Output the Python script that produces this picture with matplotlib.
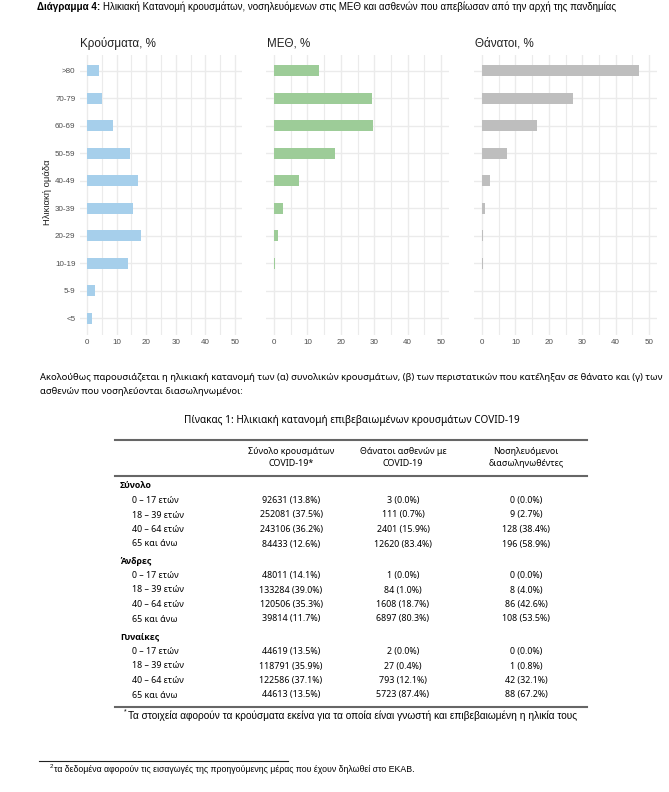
import matplotlib
matplotlib.use("Agg")
import matplotlib.pyplot as plt
from matplotlib.lines import Line2D
import numpy as np

# ---- data ----
age_groups = ["<5", "5-9", "10-19", "20-29", "30-39", "40-49", "50-59", "60-69", "70-79", ">80"]
cases_pct = [1.7, 2.7, 13.9, 18.2, 15.5, 17.2, 14.5, 8.8, 5.1, 4.0]
icu_pct = [0.1, 0.1, 0.4, 1.1, 2.6, 7.4, 18.2, 29.5, 29.2, 13.4]
death_pct = [0.1, 0.0, 0.2, 0.2, 0.8, 2.3, 7.4, 16.4, 27.1, 46.9]

panel_titles = ["Κρούσματα, %", "ΜΕΘ, %", "Θάνατοι, %"]
panel_colors = ["#a6cfeb", "#9dcc98", "#bebebe"]
x_ticks = [0, 10, 20, 30, 40, 50]

col_headers = [["Σύνολο κρουσμάτων", "COVID-19*"],
               ["Θάνατοι ασθενών με", "COVID-19"],
               ["Νοσηλευόμενοι", "διασωληνωθέντες"]]
row_labels = ["0 – 17 ετών", "18 – 39 ετών", "40 – 64 ετών", "65 και άνω"]
groups = ["Σύνολο", "Άνδρες", "Γυναίκες"]
tbl_cases = [["92631 (13.8%)", "252081 (37.5%)", "243106 (36.2%)", "84433 (12.6%)"],
             ["48011 (14.1%)", "133284 (39.0%)", "120506 (35.3%)", "39814 (11.7%)"],
             ["44619 (13.5%)", "118791 (35.9%)", "122586 (37.1%)", "44613 (13.5%)"]]
tbl_deaths = [["3 (0.0%)", "111 (0.7%)", "2401 (15.9%)", "12620 (83.4%)"],
              ["1 (0.0%)", "84 (1.0%)", "1608 (18.7%)", "6897 (80.3%)"],
              ["2 (0.0%)", "27 (0.4%)", "793 (12.1%)", "5723 (87.4%)"]]
tbl_intub = [["0 (0.0%)", "9 (2.7%)", "128 (38.4%)", "196 (58.9%)"],
             ["0 (0.0%)", "8 (4.0%)", "86 (42.6%)", "108 (53.5%)"],
             ["0 (0.0%)", "1 (0.8%)", "42 (32.1%)", "88 (67.2%)"]]

W, H = 669, 792
fig = plt.figure(figsize=(W / 100, H / 100), dpi=100)
fig.patch.set_facecolor("white")


def fx(x):
    return x / W


def fy(y):
    return 1 - y / H


HEAD = ["Liberation Sans Narrow", "Liberation Sans", "DejaVu Sans"]
ARIAL = ["Liberation Sans", "DejaVu Sans"]
BODY = ["Noto Sans", "DejaVu Sans"]
BODY_B = ["Open Sans", "DejaVu Sans"]

# title line
fig.text(fx(37), fy(7), "Διάγραμμα 4:", fontsize=7.1, fontweight="bold", family=HEAD,
         va="center", ha="left")
fig.text(fx(103), fy(7), "Ηλικιακή Κατανομή κρουσμάτων, νοσηλευόμενων στις ΜΕΘ και ασθενών που απεβίωσαν από την αρχή της πανδημίας",
         fontsize=7, family=HEAD, va="center", ha="left")

# ---- bar panels ----
top, bottom = 54.5, 334.5
panels = [(79.6, 162.8), (265.6, 183.8), (473.6, 183.8)]
values = [cases_pct, icu_pct, death_pct]
ypos = np.arange(len(age_groups))
title_x = [80, 267, 475]

for i, ((left, width), vals) in enumerate(zip(panels, values)):
    ax = fig.add_axes([fx(left), fy(bottom), width / W, (bottom - top) / H])
    ax.barh(ypos, vals, height=0.4, color=panel_colors[i], zorder=2)
    ax.set_xlim(-2.5, 52.5)
    ax.set_ylim(-0.6, len(age_groups) - 0.4)
    ax.set_xticks(x_ticks)
    ax.set_xticks([5, 15, 25, 35, 45], minor=True)
    ax.set_yticks(ypos)
    if i == 0:
        ax.set_yticklabels(age_groups)
    else:
        ax.set_yticklabels([])
    ax.tick_params(axis="both", length=0, labelsize=5.8, labelcolor="#4d4d4d", pad=3)
    ax.tick_params(axis="x", which="minor", length=0)
    for lab in ax.get_xticklabels() + ax.get_yticklabels():
        lab.set_family(ARIAL)
    ax.grid(True, which="major", color="#ebebeb", linewidth=1.0, zorder=0)
    ax.grid(True, which="minor", axis="x", color="#ebebeb", linewidth=0.8, zorder=0)
    for s in ax.spines.values():
        s.set_visible(False)
    fig.text(fx(title_x[i]), fy(43), panel_titles[i], fontsize=8.4, family=ARIAL,
             va="center", ha="left", color="#222222")

fig.text(fx(47), fy(192), "Ηλικιακή ομάδα", rotation=90, fontsize=6.8, family=HEAD,
         va="center", ha="center", color="#222222")

# ---- paragraph ----
fig.text(fx(40), fy(377), "Ακολούθως παρουσιάζεται η ηλικιακή κατανομή των (α) συνολικών κρουσμάτων, (β) των περιστατικών που κατέληξαν σε θάνατο και (γ) των",
         fontsize=6.8, family=BODY, va="center", ha="left")
fig.text(fx(40), fy(391), "ασθενών που νοσηλεύονται διασωληνωμένοι:",
         fontsize=6.8, family=BODY, va="center", ha="left")
fig.text(fx(352), fy(421), "Πίνακας 1: Ηλικιακή κατανομή επιβεβαιωμένων κρουσμάτων COVID-19",
         fontsize=7.2, family=BODY, va="center", ha="center")

# ---- table ----
def hline(y, x0, x1, lw, color="#555555"):
    fig.add_artist(Line2D([fx(x0), fx(x1)], [fy(y), fy(y)], lw=lw, color=color,
                          transform=fig.transFigure))


hline(440, 115, 587, 1.5, "#666666")
hline(476, 115, 587, 1.5, "#666666")
hline(707, 115, 587, 1.5, "#666666")

col_x = [291, 403, 526]
for cx, hdr in zip(col_x, col_headers):
    fig.text(fx(cx), fy(451), hdr[0], fontsize=6.4, family=BODY, va="center", ha="center")
    fig.text(fx(cx), fy(464), hdr[1], fontsize=6.4, family=BODY, va="center", ha="center")

group_y = [486, 561, 637]
for g, gy in enumerate(group_y):
    fig.text(fx(120), fy(gy), groups[g], fontsize=6.3, family=BODY_B, fontweight="bold",
             va="center", ha="left")
    for r in range(4):
        ry = gy + 14.5 * (r + 1)
        fig.text(fx(132), fy(ry), row_labels[r], fontsize=6.4, family=BODY, va="center", ha="left")
        for cx, col in zip(col_x, [tbl_cases, tbl_deaths, tbl_intub]):
            fig.text(fx(cx), fy(ry), col[g][r], fontsize=6.4, family=BODY, va="center", ha="center")

fig.text(fx(124), fy(712), "*", fontsize=5, family=ARIAL, va="center", ha="left")
fig.text(fx(128), fy(716), "Τα στοιχεία αφορούν τα κρούσματα εκείνα για τα οποία είναι γνωστή και επιβεβαιωμένη η ηλικία τους",
         fontsize=7.3, family=ARIAL, va="center", ha="left")

# ---- page footnote ----
hline(761, 39, 288, 0.8, "#222222")
fig.text(fx(50), fy(766), "2", fontsize=4.5, family=ARIAL, va="center", ha="left")
fig.text(fx(53.5), fy(769), "τα δεδομένα αφορούν τις εισαγωγές της προηγούμενης μέρας που έχουν δηλωθεί στο ΕΚΑΒ.",
         fontsize=6.3, family=ARIAL, va="center", ha="left")

fig.savefig("out.png", dpi=100)
